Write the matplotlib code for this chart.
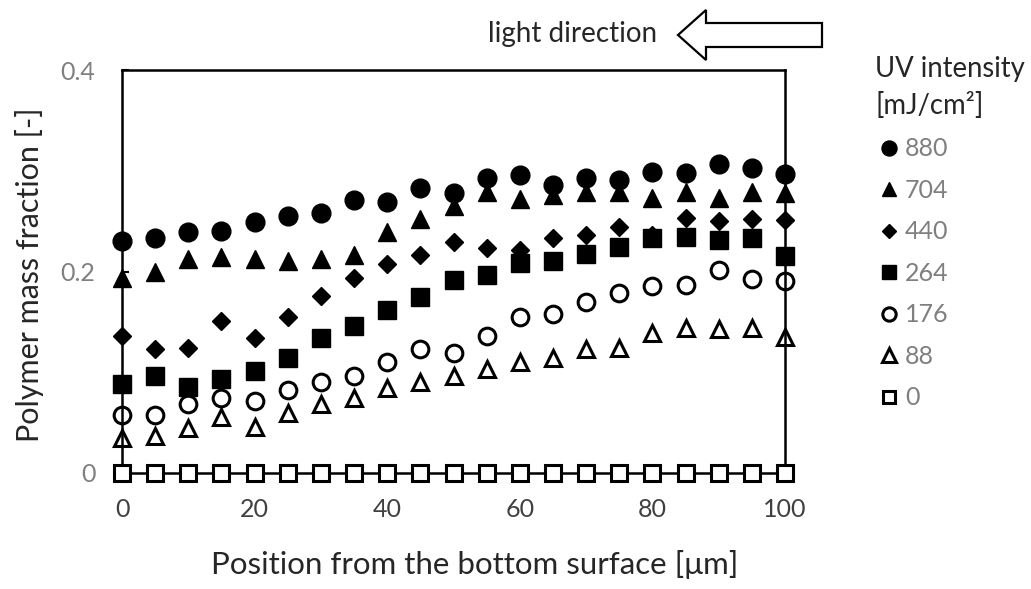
import matplotlib
matplotlib.use("Agg")
import matplotlib.pyplot as plt
from matplotlib.patches import FancyArrow

plt.rcParams['font.family'] = ['Lato', 'DejaVu Sans']

# ---- data ----
position = [0, 5, 10, 15, 20, 25, 30, 35, 40, 45, 50, 55, 60, 65, 70, 75, 80, 85, 90, 95, 100]
s880 = [0.230, 0.233, 0.239, 0.240, 0.249, 0.255, 0.258, 0.271, 0.269, 0.283, 0.278,
        0.293, 0.296, 0.286, 0.293, 0.291, 0.299, 0.298, 0.307, 0.303, 0.297]
s704 = [0.194, 0.200, 0.212, 0.214, 0.212, 0.210, 0.212, 0.216, 0.239, 0.252, 0.265,
        0.279, 0.272, 0.276, 0.279, 0.279, 0.273, 0.279, 0.273, 0.279, 0.278]
s440 = [0.136, 0.123, 0.124, 0.151, 0.134, 0.155, 0.176, 0.194, 0.207, 0.216, 0.229,
        0.223, 0.221, 0.233, 0.236, 0.244, 0.236, 0.253, 0.250, 0.252, 0.251]
s264 = [0.088, 0.096, 0.085, 0.093, 0.101, 0.114, 0.134, 0.146, 0.162, 0.175, 0.192,
        0.197, 0.208, 0.210, 0.217, 0.224, 0.233, 0.234, 0.231, 0.233, 0.215]
s176 = [0.058, 0.058, 0.068, 0.074, 0.071, 0.082, 0.090, 0.096, 0.110, 0.123, 0.119,
        0.136, 0.155, 0.158, 0.170, 0.179, 0.186, 0.187, 0.201, 0.193, 0.191]
s88 = [0.035, 0.037, 0.045, 0.056, 0.046, 0.060, 0.068, 0.074, 0.084, 0.090, 0.096,
       0.103, 0.110, 0.114, 0.123, 0.124, 0.139, 0.144, 0.143, 0.144, 0.135]
s0 = [0, 0, 0, 0, 0, 0, 0, 0, 0, 0, 0, 0, 0, 0, 0, 0, 0, 0, 0, 0, 0]

series_labels = ['880', '704', '440', '264', '176', '88', '0']
series_values = [s880, s704, s440, s264, s176, s88, s0]
xtick_vals = [0, 20, 40, 60, 80, 100]
ytick_vals = [0, 0.2, 0.4]
ytick_labels = ['0', '0.2', '0.4']

# ---- styles ----
styles = [
    dict(marker='o', ms=13.5, mfc='black', mec='black', mew=1, zorder=3),
    dict(marker='^', ms=13, mfc='black', mec='black', mew=1, zorder=3),
    dict(marker='D', ms=9.5, mfc='black', mec='black', mew=1, zorder=3),
    dict(marker='s', ms=13, mfc='black', mec='black', mew=1, zorder=3),
    dict(marker='o', ms=12, mfc='none', mec='black', mew=2.2, zorder=3),
    dict(marker='^', ms=12, mfc='none', mec='black', mew=2.2, zorder=3),
    dict(marker='s', ms=11, mfc='white', mec='black', mew=2.2, zorder=4),
]

W, H = 1031, 589
fig = plt.figure(figsize=(W / 100, H / 100), dpi=100)
ax = fig.add_axes([122 / W, 1 - 473 / H, (785 - 122) / W, (473 - 70) / H])

handles = []
for lab, vals, st in zip(series_labels, series_values, styles):
    h, = ax.plot(position, vals, linestyle='none', clip_on=False, label=lab, **st)
    handles.append(h)

ax.set_xlim(0, 100)
ax.set_ylim(0, 0.4)
ax.set_xticks(xtick_vals)
ax.set_xticklabels([str(v) for v in xtick_vals])
ax.set_yticks(ytick_vals)
ax.set_yticklabels(ytick_labels)
for sp in ax.spines.values():
    sp.set_linewidth(1.8)
    sp.set_color('black')
    sp.set_zorder(2.5)
ax.tick_params(axis='x', length=0, pad=18, labelsize=18, labelcolor='#404040')
ax.tick_params(axis='y', direction='in', length=5, width=1.5, pad=19,
               labelsize=18, labelcolor='#808080')

ax.set_xlabel('Position from the bottom surface [μm]', fontsize=22.5, color='#262626')
ax.xaxis.set_label_coords(0.532, -0.228)
ax.xaxis.label.set_verticalalignment('center')
ax.set_ylabel('Polymer mass fraction [-]', fontsize=22, color='#262626')
ax.yaxis.set_label_coords(-0.139, 0.491)
ax.yaxis.label.set_verticalalignment('center')

leg = ax.legend(handles=handles, loc='upper left',
                bbox_to_anchor=(875 / W, 1 - 56 / H), bbox_transform=fig.transFigure,
                frameon=False, title='UV intensity\n[mJ/cm²]', alignment='left',
                borderpad=0, borderaxespad=0, handlelength=1.1, handletextpad=0.1,
                labelspacing=0.74, markerscale=0.8, fontsize=18,
                title_fontsize=19.8, labelcolor='#7f7f7f')
leg.get_title().set_color('#262626')
leg.get_title().set_linespacing(1.45)

# light direction annotation
fig.text(488 / W, 1 - 34 / H, 'light direction', fontsize=20, color='#262626',
         ha='left', va='center')
arrow = FancyArrow(8.22, (H - 35) / 100, -1.44, 0, width=0.24, head_width=0.50,
                   head_length=0.28, length_includes_head=True,
                   transform=fig.dpi_scale_trans, fc='white', ec='black', lw=1.6)
fig.add_artist(arrow)

fig.savefig('out.png', dpi=100)
